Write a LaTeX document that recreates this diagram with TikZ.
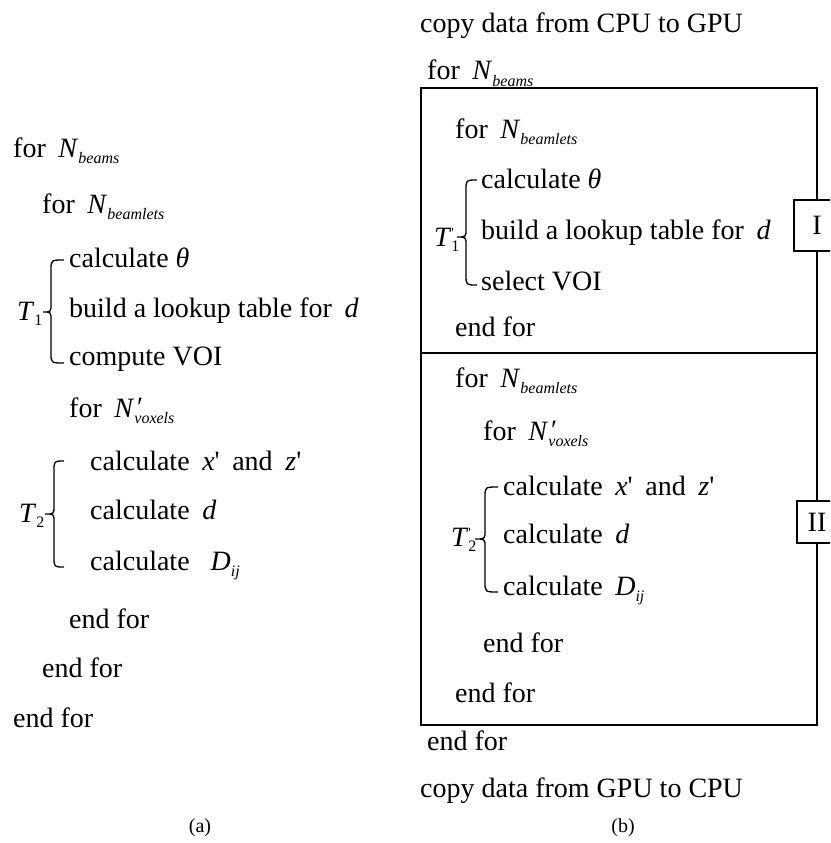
\documentclass[tikz,border=0pt]{standalone}
\usepackage{fontspec}
\setmainfont{Liberation Serif}
\newcommand{\lowsub}[1]{\raisebox{-6pt}{\fontsize{16}{16}\selectfont\itshape #1}}
\newcommand{\NN}[1]{\textit{N}\lowsub{#1}}
\newcommand{\NNp}[1]{\textit{N}\rlap{\raisebox{1pt}{\kern1pt\textit{′}}}\lowsub{#1}}
\newcommand{\TTp}[1]{\textit{T}\rlap{\raisebox{9pt}{\fontsize{14}{14}\selectfont\textquotesingle}}\raisebox{-5pt}{\fontsize{16}{16}\selectfont #1}}
\newcommand{\TTn}[1]{\textit{T}\raisebox{-5pt}{\fontsize{16}{16}\selectfont #1}}
\newcommand{\gp}{\hspace{0.45em}}
\newcommand{\bracepath}[6]{%
  \draw[brc] (#2,#4) .. controls (#1,#4) .. (#1,#4+10) -- (#1,#5-8)
    .. controls (#1,#5) .. (#3,#5) .. controls (#1,#5) .. (#1,#5+8)
    -- (#1,#6-10) .. controls (#1,#6) .. (#2,#6);}
\begin{document}
\begin{tikzpicture}[x=1pt,y=-1pt,
  txt/.style={anchor=base west,inner sep=0pt,font=\fontsize{28}{34}\selectfont},
  caplbl/.style={anchor=base,inner sep=0pt,font=\fontsize{20}{24}\selectfont},
  brc/.style={line width=1.3pt},
  boxln/.style={line width=1.6pt},
  tag/.style={draw,line width=1.6pt,fill=white,inner sep=0pt,font=\fontsize{28}{34}\selectfont}]
\useasboundingbox (0,0) rectangle (830,843);
\clip (0,0) rectangle (830,843);
% ---------- (a) ----------
\node[txt] (a1) at (13,157) {for\gp\NN{beams}};
\node[txt] (a2) at (42,213) {for\gp\NN{beamlets}};
\node[txt] (a3) at (69,267) {calculate \textit{θ}};
\node[txt] (a4) at (69,317) {build a lookup table for\gp\textit{d}};
\node[txt] (a5) at (69,365) {compute VOI};
\node[txt] (a6) at (69,417) {for\gp\NNp{voxels}};
\node[txt] (a7) at (90,470) {calculate\gp\textit{x}\textquotesingle\gp and\gp\textit{z}\textquotesingle};
\node[txt] (a8) at (90,519) {calculate\gp\textit{d}};
\node[txt] (a9) at (90,570) {calculate\hspace{0.75em}\textit{D}\lowsub{ij}};
\node[txt] (a10) at (69,628) {end for};
\node[txt] (a11) at (42,677) {end for};
\node[txt] (a12) at (13,727) {end for};
\node[txt] (aT1) at (17,320) {\TTn{1}};
\node[txt] (aT2) at (19,522) {\TTn{2}};
\bracepath{51}{64}{43}{260}{312}{363}
\bracepath{54}{64}{45}{461}{514}{567}
\node[caplbl] (capa) at (200,832) {(a)};
% ---------- (b) ----------
\draw[boxln] (421,88) rectangle (817,725);
\draw[boxln] (421,353) -- (817,353);
\node[tag,minimum width=46,minimum height=51] (boxI) at (817,225.5) {I};
\node[tag,minimum width=40,minimum height=42] (boxII) at (817,522) {II};
\node[txt] (b0) at (420,33) {copy data from CPU to GPU};
\node[txt] (b1) at (427,80) {for\gp\NN{beams}};
\node[txt] (b2) at (455,138) {for\gp\NN{beamlets}};
\node[txt] (b3) at (481,188) {calculate \textit{θ}};
\node[txt] (b4) at (481,239) {build a lookup table for\gp\textit{d}};
\node[txt] (b5) at (481,290) {select VOI};
\node[txt] (b6) at (455,336) {end for};
\node[txt] (b7) at (455,387) {for\gp\NN{beamlets}};
\node[txt] (b8) at (483,440) {for\gp\NNp{voxels}};
\node[txt] (b9) at (503,495) {calculate\gp\textit{x}\textquotesingle\gp and\gp\textit{z}\textquotesingle};
\node[txt] (b10) at (503,543) {calculate\gp\textit{d}};
\node[txt] (b11) at (503,595) {calculate\gp\textit{D}\lowsub{ij}};
\node[txt] (b12) at (483,652) {end for};
\node[txt] (b13) at (455,702) {end for};
\node[txt] (b14) at (427,750) {end for};
\node[txt] (b15) at (420,797) {copy data from GPU to CPU};
\node[txt] (bT1) at (434,246) {\TTp{1}};
\node[txt] (bT2) at (451,546) {\TTp{2}};
\bracepath{466}{477}{457}{180}{237}{285}
\bracepath{485}{498}{475}{487}{539}{592}
\node[caplbl] (capb) at (623,832) {(b)};
\end{tikzpicture}
\end{document}
